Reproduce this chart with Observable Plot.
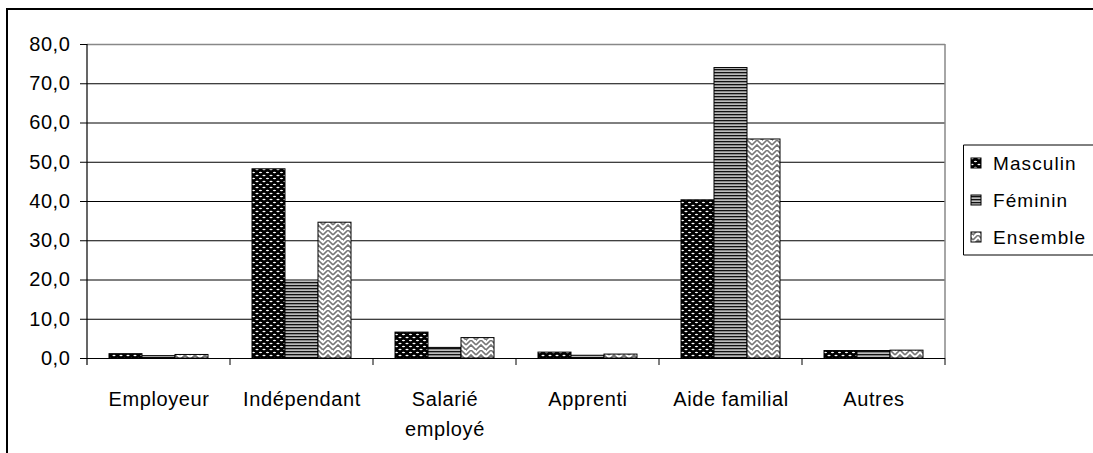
<!DOCTYPE html>
<html><head><meta charset="utf-8">
<script src="https://cdn.jsdelivr.net/npm/d3@7"></script>
<script src="https://cdn.jsdelivr.net/npm/@observablehq/plot@0.6"></script>
<style>html,body{margin:0;padding:0;background:#fff;overflow:hidden} svg{font-family:"Liberation Sans",Arial,sans-serif;display:block}</style>
</head><body><div id="chart"></div>
<script>
const categories = ["Employeur","Indépendant","Salarié employé","Apprenti","Aide familial","Autres"];
const categoryLabels = ["Employeur","Indépendant","Salarié\nemployé","Apprenti","Aide familial","Autres"];
const series = ["Masculin","Féminin","Ensemble"];
const masculin = [1.1, 48.2, 6.6, 1.5, 40.3, 1.9];
const feminin  = [0.6, 19.3, 2.7, 0.7, 74.0, 1.9];
const ensemble = [0.9, 34.6, 5.2, 1.0, 55.8, 2.0];
const yTicks = [0,10,20,30,40,50,60,70,80];
const patternIds = ["pMasc","pFem","pEns"];

const values = [masculin, feminin, ensemble];
const data = categories.flatMap((c,i) => series.map((s,j) => ({cat:c, series:s, value:values[j][i]})));
const labelOf = new Map(categories.map((c,i)=>[c, categoryLabels[i]]));

const plot = Plot.plot({
  width:1093, height:453, marginLeft:87, marginRight:148, marginTop:44, marginBottom:95,
  style:{fontSize:"20px", fontFamily:'"Liberation Sans",Arial,sans-serif', background:"white", color:"#000"},
  fx:{domain:categories, padding:0, label:null},
  x:{domain:series, paddingInner:0, paddingOuter:0.645, axis:null},
  y:{domain:[0,80], label:null},
  color:{type:"ordinal", domain:series, range:patternIds.map(id=>`url(#${id})`)},
  marks:[
    Plot.gridY(yTicks.filter(t=>t>0&&t<80), {stroke:"#000", strokeOpacity:1}),
    Plot.ruleY([80], {stroke:"#888", strokeWidth:1.5}),
    Plot.barY(data, {fx:"cat", x:"series", y:"value", fill:"series", stroke:"#000", strokeWidth:1}),
    Plot.ruleY([0], {stroke:"#000", strokeWidth:1.2}),
    Plot.axisY({ticks:yTicks, tickFormat:d=>d.toFixed(1).replace(".",","), tickSize:7, tickPadding:10, label:null, fontSize:20}),
    Plot.axisFx({anchor:"bottom", tickSize:0, tickPadding:26, lineHeight:1.5, label:null, fontSize:20, tickFormat:c=>labelOf.get(c)})
  ]
});
document.getElementById("chart").appendChild(plot);

const svg = d3.select(plot);
svg.selectAll("text").attr("letter-spacing", 0.6);
const defs = svg.insert("defs", ":first-child");
// Masculin pattern
const pm = defs.append("pattern").attr("id","pMasc").attr("patternUnits","userSpaceOnUse").attr("width",7).attr("height",6);
pm.append("rect").attr("width",7).attr("height",6).attr("fill","#000");
pm.append("ellipse").attr("cx",2).attr("cy",1.5).attr("rx",1.6).attr("ry",0.75).attr("fill","#fff");
pm.append("ellipse").attr("cx",5.5).attr("cy",4.5).attr("rx",1.6).attr("ry",0.75).attr("fill","#fff");
pm.append("ellipse").attr("cx",-1.5).attr("cy",4.5).attr("rx",1.6).attr("ry",0.75).attr("fill","#fff");
// Féminin pattern
const pf = defs.append("pattern").attr("id","pFem").attr("patternUnits","userSpaceOnUse").attr("width",4).attr("height",3);
pf.append("rect").attr("width",4).attr("height",3).attr("fill","#bbb");
pf.append("rect").attr("width",4).attr("height",1.3).attr("fill","#111");
// Ensemble pattern (herringbone)
const pe = defs.append("pattern").attr("id","pEns").attr("patternUnits","userSpaceOnUse").attr("width",10).attr("height",10);
pe.append("rect").attr("width",10).attr("height",10).attr("fill","#fff");
pe.append("path").attr("d","M0,5L5,0L10,5M0,10L5,5L10,10M-1,1L1,-1M9,11L11,9").attr("fill","none").attr("stroke","#777").attr("stroke-width",1.6);

const fx = plot.scale("fx"), y = plot.scale("y");
const x0 = fx.apply(categories[0]);
const xEnd = fx.apply(categories[categories.length-1]) + fx.bandwidth;
const y0 = y.apply(0), yTop = y.apply(80);
const extra = svg.append("g");
// plot area borders
extra.append("line").attr("x1",x0).attr("x2",x0).attr("y1",yTop).attr("y2",y0+7).attr("stroke","#000").attr("stroke-width",1.2);
extra.append("line").attr("x1",xEnd).attr("x2",xEnd).attr("y1",yTop).attr("y2",y0).attr("stroke","#888").attr("stroke-width",1.5);
// boundary ticks on the category axis
categories.forEach(c => {
  const bx = fx.apply(c) + fx.bandwidth;
  extra.append("line").attr("x1",bx).attr("x2",bx).attr("y1",y0).attr("y2",y0+7).attr("stroke","#000");
});
// outer frame (left and top edges visible)
svg.append("path").attr("d","M7,453V9H1093").attr("fill","none").attr("stroke","#000").attr("stroke-width",2);
// legend
const lg = svg.append("g").attr("transform","translate(963,145)").attr("text-anchor","start");
lg.append("path").attr("d","M130,0H0.5V110H130").attr("fill","#fff").attr("stroke","#000");
series.forEach((s,i) => {
  const gy = 18 + i*37;
  lg.append("rect").attr("x",8).attr("y",gy-5).attr("width",10).attr("height",10).attr("fill",`url(#${patternIds[i]})`).attr("stroke","#000");
  lg.append("text").attr("x",30).attr("y",gy).attr("dy","0.35em").attr("text-anchor","start").attr("font-size",19).attr("letter-spacing",1.1).attr("fill","#000").text(s);
});
</script>
</body></html>
